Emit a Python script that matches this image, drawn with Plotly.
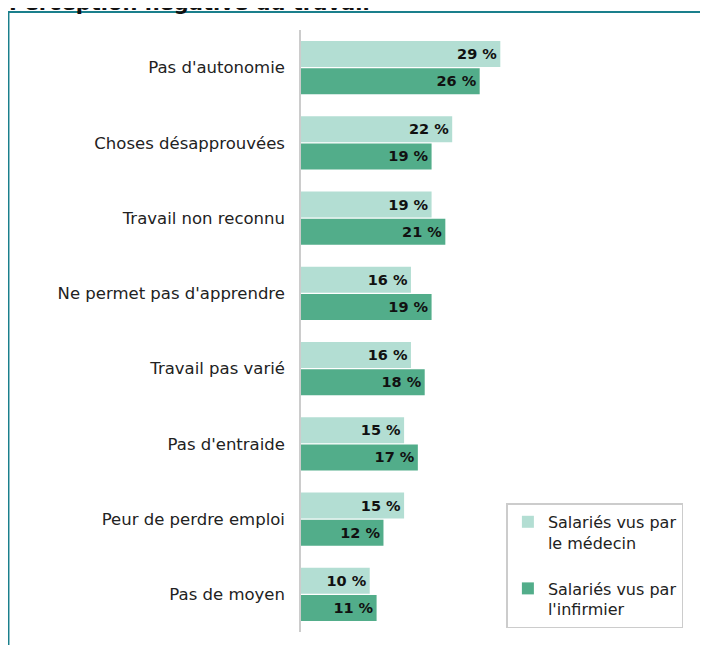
import plotly.graph_objects as go

categories = ["Pas d'autonomie", "Choses désapprouvées", "Travail non reconnu",
              "Ne permet pas d'apprendre", "Travail pas varié", "Pas d'entraide",
              "Peur de perdre emploi", "Pas de moyen"]
medecin = [29, 22, 19, 16, 16, 15, 15, 10]
infirmier = [26, 19, 21, 19, 18, 17, 12, 11]
series_names = ["Salariés vus par<br>le médecin", "Salariés vus par<br>l'infirmier"]
title_text = "Perception négative du travail"

FONT = "DejaVu Sans"
light = "#b3ded3"
dark = "#52ad8a"

fig = go.Figure()
for i, (name, vals, col) in enumerate([(series_names[0], medecin, light),
                                       (series_names[1], infirmier, dark)]):
    fig.add_trace(go.Bar(
        y=categories, x=vals, orientation="h", name=name, legendgroup=f"g{i}",
        marker=dict(color=col, line=dict(width=0)),
        text=[f"<b>{v} %</b>" for v in vals],
        textposition="inside", insidetextanchor="end", textangle=0,
        textfont=dict(family=FONT, size=14.5, color="#111111"),
        constraintext="none", hoverinfo="skip",
    ))

fig.update_layout(
    width=700, height=637,
    margin=dict(l=293, r=18, t=22, b=13, pad=0),
    paper_bgcolor="white", plot_bgcolor="white",
    barmode="group", bargap=0.28, bargroupgap=0.04,
    font=dict(family=FONT, size=16, color="#222222"),
    xaxis=dict(range=[0, 56.6], showgrid=False, showticklabels=False, zeroline=False,
               showline=False, ticks=""),
    yaxis=dict(autorange="reversed", showgrid=False, showline=True, linecolor="#cccccc",
               linewidth=1.5, ticks="", ticklabelstandoff=11,
               tickfont=dict(family=FONT, size=16.5, color="#222222")),
    legend=dict(x=0.528, y=0.006, xanchor="left", yanchor="bottom",
                bordercolor="#cccccc", borderwidth=1.5, bgcolor="white",
                font=dict(family=FONT, size=16, color="#222222"),
                tracegroupgap=22, itemwidth=30, valign="top"),
    showlegend=True,
)

fig.add_shape(type="rect", xref="paper", yref="paper",
              x0=-0.752, x1=1.2, y0=-0.2, y1=1.0299,
              line=dict(color="#1a7f8c", width=2), fillcolor="rgba(0,0,0,0)")

fig.add_annotation(text=f"<b>{title_text}</b>", xref="paper", yref="paper",
                   x=-0.755, y=1.022, xanchor="left", yanchor="bottom", showarrow=False,
                   font=dict(family=FONT, size=21, color="#111111"))

fig.write_html("out.html")
